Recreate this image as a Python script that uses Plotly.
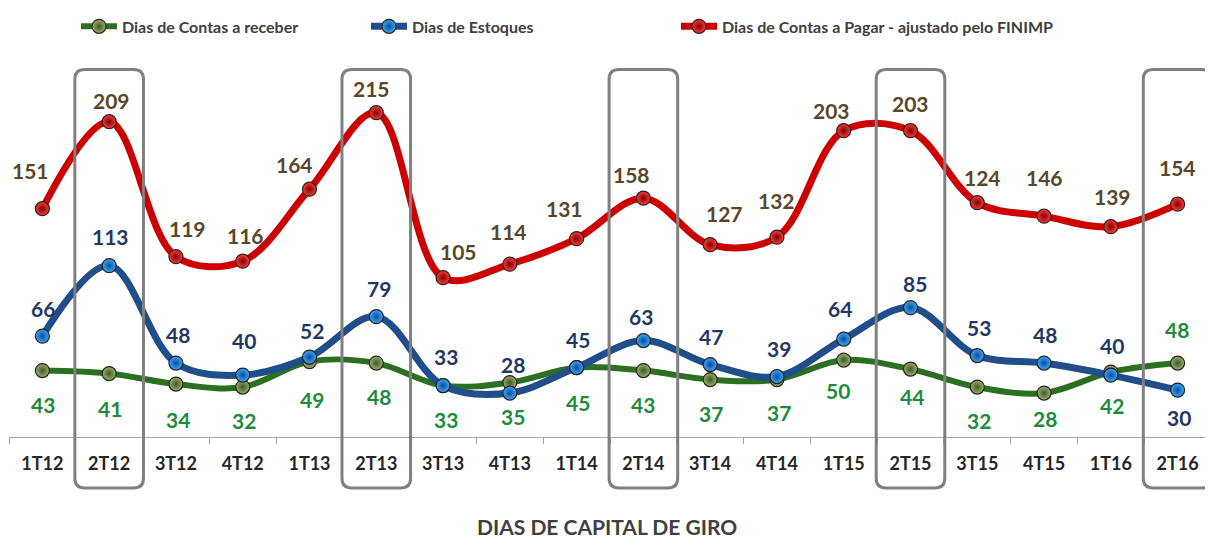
import plotly.graph_objects as go

# ---------------- data ----------------
quarters = ["1T12", "2T12", "3T12", "4T12", "1T13", "2T13", "3T13", "4T13", "1T14",
            "2T14", "3T14", "4T14", "1T15", "2T15", "3T15", "4T15", "1T16", "2T16"]
receivable_days = [43, 41, 34, 32, 49, 48, 33, 35, 45, 43, 37, 37, 50, 44, 32, 28, 42, 48]
inventory_days = [66, 113, 48, 40, 52, 79, 33, 28, 45, 63, 47, 39, 64, 85, 53, 48, 40, 30]
payable_days = [151, 209, 119, 116, 164, 215, 105, 114, 131, 158, 127, 132, 203, 203, 155, 146, 139, 154]
payable_labels = ["151", "209", "119", "116", "164", "215", "105", "114", "131",
                  "158", "127", "132", "203", "203", "124", "146", "139", "154"]
highlighted = ["2T12", "2T13", "2T14", "2T15", "2T16"]

series_names = ["Dias de Contas a receber", "Dias de Estoques",
                "Dias de Contas a Pagar - ajustado pelo FINIMP"]
axis_title = "DIAS DE CAPITAL DE GIRO"

# ---------------- style ----------------
W, H = 1213, 554
OFF = 8  # page body margin of the html page
ML, MT = 1, 32
PW = 1202
PH = 397
MR = W - ML - PW
MB = H - MT - PH
FONT = "Lato"


def sx(px):
    """screen x pixel -> paper x"""
    return (px - OFF - ML) / PW


def sy(py):
    """screen y pixel -> paper y"""
    return (MT + PH - (py - OFF)) / PH


line_colors = ["#2a7020", "#1f4e8a", "#cc0000"]
marker_light = ["#9cb070", "#3aa8ff", "#ff3a3a"]
marker_dark = ["#3e5a22", "#0a4c98", "#7a0000"]
label_colors = ["#1e8c3a", "#1f3864", "#5a4628"]
line_widths = [6, 7, 7]

# label pixel offsets (dx, dy) relative to the point, dy positive = downward
green_off = [(1, 34), (1, 35), (2, 35), (1, 33), (2, 38), (3, 33), (3, 34), (3, 34), (1, 35),
             (0, 34), (1, 34), (2, 33), (-6, 30), (1, 27), (2, 33), (1, 25), (1, 33), (-1, -34)]
blue_off = [(1, -28), (1, -29), (2, -29), (1, -35), (2, -27), (3, -28), (3, -29), (3, -29), (1, -28),
            (-2, -24), (1, -28), (2, -28), (-4, -31), (4, -24), (2, -28), (1, -29), (1, -30), (1, 27)]
red_off = [(-12, -38), (2, -21), (12, -28), (3, -26), (-15, -25), (-5, -24), (15, -26), (-1, -33),
           (-12, -30), (-12, -24), (14, -31), (0, -37), (-12, -20), (0, -27), (5, -25), (0, -39),
           (2, -30), (0, -37)]

fig = go.Figure()

all_values = [receivable_days, inventory_days, payable_days]
all_labels = [[str(v) for v in receivable_days], [str(v) for v in inventory_days], payable_labels]
all_offsets = [green_off, blue_off, red_off]
legend_ids = ["legend", "legend2", "legend3"]

for k in range(3):
    fig.add_trace(go.Scatter(
        x=quarters, y=all_values[k], name=series_names[k], mode="lines+markers",
        line=dict(color=line_colors[k], width=line_widths[k], shape="spline", smoothing=1.0),
        marker=dict(size=14, color=marker_light[k],
                    gradient=dict(type="radial", color=marker_dark[k]),
                    line=dict(color="#2b2118", width=1.2)),
        legend=legend_ids[k], hoverinfo="skip",
    ))

annotations = []
for k in range(3):
    for i, q in enumerate(quarters):
        dx, dy = all_offsets[k][i]
        annotations.append(dict(
            x=q, y=all_values[k][i], xref="x", yref="y", text=all_labels[k][i],
            showarrow=False, xshift=dx, yshift=-dy,
            font=dict(family=FONT, size=21, color=label_colors[k], weight="bold"),
        ))

annotations.append(dict(
    x=sx(607), y=sy(543), xref="paper", yref="paper",
    text=axis_title, showarrow=False,
    font=dict(family=FONT, size=21, color="#404040", weight="bold"),
))

# rounded highlight boxes
n = len(quarters)
half_w = 34.3
top_px, bot_px = 62, 489
rx = 10 / PW
ry = 10 / PH
shapes = []
for q in highlighted:
    i = quarters.index(q)
    cx = (i + 0.5) / n
    x0 = cx - half_w / PW
    x1 = cx + half_w / PW
    y1 = sy(top_px)
    y0 = sy(bot_px)
    path = (f"M{x0 + rx},{y1} L{x1 - rx},{y1} Q{x1},{y1} {x1},{y1 - ry} "
            f"L{x1},{y0 + ry} Q{x1},{y0} {x1 - rx},{y0} L{x0 + rx},{y0} "
            f"Q{x0},{y0} {x0},{y0 + ry} L{x0},{y1 - ry} Q{x0},{y1} {x0 + rx},{y1} Z")
    shapes.append(dict(type="path", path=path, xref="paper", yref="paper",
                       line=dict(color="#808080", width=3), layer="above"))

y_per_px = 1.53
zero_screen = 435
y_min = -((MT + PH) - (zero_screen - OFF)) / y_per_px
y_max = y_min + PH / y_per_px

legend_font = dict(family=FONT, size=16, color="#404040", weight="bold")
legend_px = [76, 366, 676]


def legend_cfg(px):
    return dict(orientation="h", x=sx(px), xanchor="left", y=sy(18), yanchor="middle",
                font=legend_font, itemwidth=36, bgcolor="rgba(0,0,0,0)", borderwidth=0)


fig.update_layout(
    width=W, height=H,
    margin=dict(l=ML, r=MR, t=MT, b=MB),
    paper_bgcolor="white", plot_bgcolor="white",
    xaxis=dict(type="category", range=[-0.5, n - 0.5], tickson="boundaries",
               ticks="outside", ticklen=6, tickcolor="#a6a6a6", tickwidth=1,
               showline=True, linecolor="#a6a6a6", linewidth=1, showgrid=False,
               tickfont=dict(family=FONT, size=18, color="#262626", weight="bold"),
               ticklabelstandoff=10, fixedrange=True),
    yaxis=dict(visible=False, range=[y_min, y_max], fixedrange=True),
    legend=legend_cfg(legend_px[0]),
    legend2=legend_cfg(legend_px[1]),
    legend3=legend_cfg(legend_px[2]),
    showlegend=True,
    annotations=annotations,
    shapes=shapes,
)

fig.write_html("out.html")
